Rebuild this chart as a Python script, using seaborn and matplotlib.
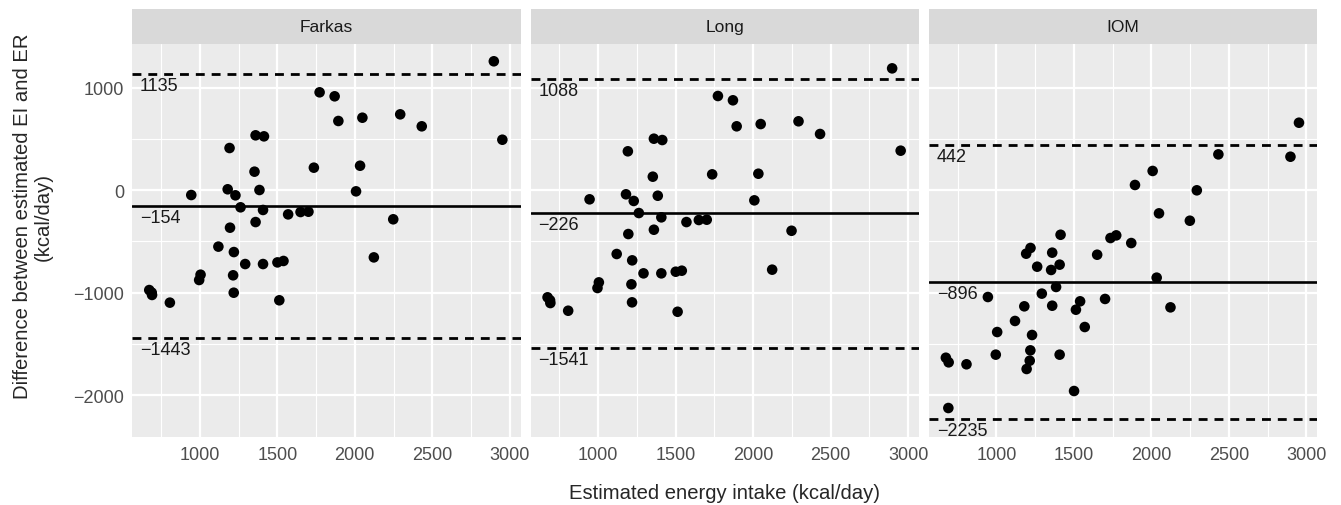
import matplotlib

matplotlib.use("Agg")

import matplotlib.pyplot as plt
import pandas as pd
import seaborn as sns
from matplotlib.patches import Rectangle

EQUATIONS = ["Farkas", "Long", "IOM"]

# estimated energy intake, same subjects in every panel
EI = [2897, 2952, 1773, 1870, 1894, 2049, 2293, 2432, 1360, 1414,
      1192, 1353, 1736, 2034, 945, 1180, 1230, 1385, 2008, 1263,
      1408, 1570, 1650, 1701, 2248, 1360, 1195, 1120, 1220, 1293,
      1408, 1501, 1540, 2123, 1005, 996, 1215, 1219, 674, 692,
      807, 1513, 690]

DIFF_FARKAS = [1259, 493, 956, 917, 676, 708, 741, 624, 536, 526,
               412, 181, 220, 239, -47, 9, -50, 2, -11, -167,
               -193, -236, -213, -210, -284, -311, -366, -551, -604, -721,
               -721, -705, -691, -656, -825, -877, -831, -1001, -975, -1023,
               -1098, -1075, -1000]

DIFF_LONG = [1190, 386, 920, 878, 624, 646, 673, 549, 503, 490,
             380, 132, 155, 161, -89, -40, -105, -54, -99, -223,
             -265, -311, -291, -288, -396, -386, -428, -623, -685, -812,
             -812, -796, -786, -776, -900, -955, -919, -1095, -1046, -1102,
             -1177, -1187, -1075]

DIFF_IOM = [327, 659, -441, -516, 51, -226, -1, 350, -610, -435,
            -620, -779, -467, -854, -1043, -1134, -1414, -945, 188, -747,
            -727, -1336, -630, -1062, -298, -1128, -1746, -1277, -564, -1010,
            -1606, -1961, -1085, -1144, -1385, -1606, -1665, -1564, -1636, -1681,
            -1700, -1167, -2127]

BIAS = [-154, -226, -896]
UPPER_LOA = [1135, 1088, 442]
LOWER_LOA = [-1443, -1541, -2235]

X_TICKS = [1000, 1500, 2000, 2500, 3000]
Y_TICKS = [-2000, -1000, 0, 1000]

sns.set_theme(
    style="darkgrid",
    rc={
        "axes.facecolor": "#EBEBEB",
        "grid.color": "white",
        "axes.edgecolor": "none",
    },
)
plt.rcParams["font.family"] = ["Liberation Sans", "DejaVu Sans"]

df = pd.DataFrame(
    {
        "ei": EI * 3,
        "diff": DIFF_FARKAS + DIFF_LONG + DIFF_IOM,
        "equation": [eq for eq in EQUATIONS for _ in EI],
    }
)

g = sns.FacetGrid(df, col="equation", col_order=EQUATIONS, sharex=True,
                  sharey=True, despine=False, height=4, aspect=1)
g.map_dataframe(sns.scatterplot, x="ei", y="diff", color="black", s=58,
                edgecolor="none")

for i, (ax, eq) in enumerate(zip(g.axes.flat, EQUATIONS)):
    ax.set_title("")
    ax.set_xlabel("")
    ax.set_ylabel("")
    ax.set_xlim(565, 3070)
    ax.set_ylim(-2413, 1428)
    ax.set_xticks(X_TICKS)
    ax.set_yticks(Y_TICKS)
    ax.set_xticks([750, 1250, 1750, 2250, 2750], minor=True)
    ax.set_yticks([-1500, -500, 500], minor=True)
    ax.grid(which="major", color="white", lw=1.6)
    ax.grid(which="minor", color="white", lw=0.8)
    ax.tick_params(which="minor", length=0)
    ax.tick_params(axis="both", which="major", length=3, width=1,
                   color="#333333", labelcolor="#4D4D4D", labelsize=13,
                   pad=3)
    if i > 0:
        ax.tick_params(axis="y", length=0)
    for spine in ax.spines.values():
        spine.set_visible(False)

    ax.axhline(BIAS[i], color="black", lw=1.9, zorder=1)
    for v in (UPPER_LOA[i], LOWER_LOA[i]):
        ax.axhline(v, color="black", lw=2, dashes=(3.2, 2.5), zorder=1)
    for v in (UPPER_LOA[i], BIAS[i], LOWER_LOA[i]):
        ax.annotate(f"{v}".replace("-", "\u2212"), xy=(615, v), xytext=(0, -2),
                    textcoords="offset points", ha="left", va="top",
                    fontsize=13, color="#1A1A1A")

    # ggplot-style strip
    ax.add_patch(Rectangle((0, 1), 1, 0.089, transform=ax.transAxes,
                           facecolor="#D9D9D9", edgecolor="none",
                           clip_on=False))
    ax.text(0.5, 1.0445, eq, transform=ax.transAxes, ha="center",
            va="center", fontsize=12.5, color="#1A1A1A")

fig = g.figure
fig.set_size_inches(13.41, 5.06)
fig.subplots_adjust(left=0.0987, right=0.9823, top=0.9111, bottom=0.1338,
                    wspace=0.0258)
fig.text(0.0246, 0.572, "Difference between estimated EI and ER\n(kcal/day)",
         rotation=90, ha="center", va="center", fontsize=14.6,
         linespacing=1.1)
fig.text(0.5403, 0.024, "Estimated energy intake (kcal/day)", ha="center",
         va="center", fontsize=14.6)

fig.savefig("out.png", dpi=100)
